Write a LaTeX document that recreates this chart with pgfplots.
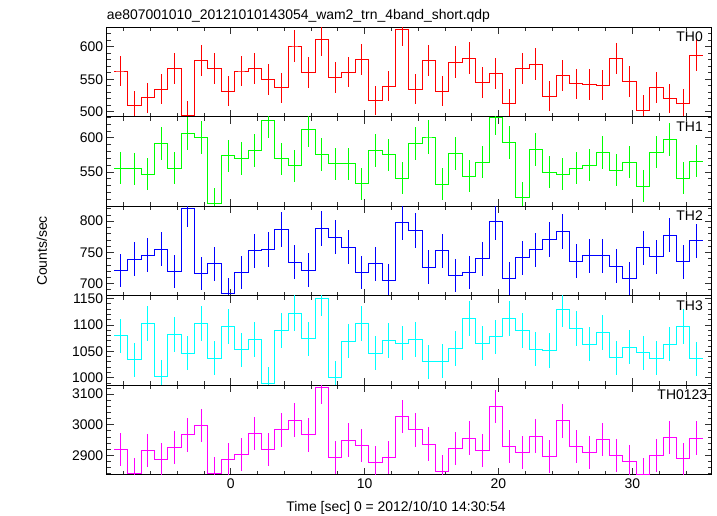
\documentclass[border=0pt]{standalone}
\usepackage{fontspec}
\setmainfont{Liberation Sans}
\usepackage{pgfplots}
\pgfplotsset{compat=1.18}
\usepgfplotslibrary{groupplots}
\usepackage{pgfplotstable}

\pgfplotstableread{
x y e
-8.7 562.6 0
-8.2 562.6 23.7
-7.2 509.2 22.6
-6.2 521.5 22.8
-5.2 534.9 23.1
-4.2 567.2 23.8
-3.2 494.4 22.2
-2.2 579.0 24.1
-1.2 566.7 23.8
-0.2 531.3 23.1
0.8 562.6 23.7
1.8 566.2 23.8
2.8 549.2 23.4
3.8 536.9 23.2
4.8 601.0 24.5
5.8 560.5 23.7
6.8 610.3 24.7
7.8 552.8 23.5
8.8 561.0 23.7
9.8 580.5 24.1
10.8 517.4 22.7
11.8 539.0 23.2
12.8 626.7 25.0
13.8 534.4 23.1
14.8 579.0 24.1
15.8 531.3 23.1
16.8 576.4 24.0
17.8 582.6 24.1
18.8 545.1 23.3
19.8 558.5 23.6
20.8 512.8 22.6
21.8 566.2 23.8
22.8 573.3 23.9
23.8 523.6 22.9
24.8 555.9 23.6
25.8 543.1 23.3
26.8 542.1 23.3
27.8 541.0 23.3
28.8 582.0 24.1
29.8 546.7 23.4
30.8 502.6 22.4
31.8 537.4 23.2
32.8 520.5 22.8
33.8 512.8 22.6
34.8 587.2 24.2
35.3 587.2 0
}\thzero

\pgfplotstableread{
x y e
-8.7 555.3 0
-8.2 555.3 23.6
-7.2 554.4 23.5
-6.2 546.6 23.4
-5.2 591.7 24.3
-4.2 555.3 23.6
-3.2 606.3 24.6
-2.2 600.0 24.5
-1.2 503.9 22.4
-0.2 573.3 23.9
0.8 569.4 23.9
1.8 580.6 24.1
2.8 625.2 25.0
3.8 568.9 23.9
4.8 558.7 23.6
5.8 611.6 24.7
6.8 575.2 24.0
7.8 561.7 23.7
8.8 561.7 23.7
9.8 532.5 23.1
10.8 581.6 24.1
11.8 574.8 24.0
12.8 540.8 23.3
13.8 591.7 24.3
14.8 601.0 24.5
15.8 532.0 23.1
16.8 576.7 24.0
17.8 543.7 23.3
18.8 564.1 23.8
19.8 629.1 25.1
20.8 593.2 24.4
21.8 512.1 22.6
22.8 583.0 24.1
23.8 549.5 23.4
24.8 546.6 23.4
25.8 555.3 23.6
26.8 559.7 23.7
27.8 578.6 24.1
28.8 552.4 23.5
29.8 564.1 23.8
30.8 529.1 23.0
31.8 579.1 24.1
32.8 597.6 24.4
33.8 540.8 23.3
34.8 565.5 23.8
35.3 565.5 0
}\thone

\pgfplotstableread{
x y e
-8.7 720.7 0
-8.2 720.7 26.8
-7.2 739.4 27.2
-6.2 745.2 27.3
-5.2 755.3 27.5
-4.2 719.7 26.8
-3.2 819.7 28.6
-2.2 716.5 26.8
-1.2 731.9 27.1
-0.2 683.5 26.1
0.8 718.1 26.8
1.8 752.7 27.4
2.8 754.8 27.5
3.8 787.2 28.1
4.8 734.0 27.1
5.8 721.3 26.9
6.8 788.8 28.1
7.8 774.5 27.8
8.8 758.5 27.5
9.8 718.1 26.8
10.8 731.9 27.1
11.8 705.3 26.6
12.8 797.3 28.2
13.8 784.6 28.0
14.8 726.1 26.9
15.8 752.7 27.4
16.8 712.8 26.7
17.8 718.1 26.8
18.8 739.9 27.2
19.8 798.9 28.3
20.8 708.5 26.6
21.8 741.5 27.2
22.8 754.3 27.5
23.8 770.2 27.8
24.8 784.0 28.0
25.8 735.6 27.1
26.8 744.7 27.3
27.8 744.7 27.3
28.8 727.7 27.0
29.8 708.5 26.6
30.8 757.4 27.5
31.8 743.1 27.3
32.8 777.7 27.9
33.8 735.1 27.1
34.8 768.6 27.7
35.3 768.6 0
}\thtwo

\pgfplotstableread{
x y e
-8.7 1079.1 0
-8.2 1079.1 32.8
-7.2 1034.2 32.2
-6.2 1103.2 33.2
-5.2 1002.5 31.7
-4.2 1081.6 32.9
-3.2 1046.2 32.3
-2.2 1103.2 33.2
-1.2 1036.7 32.2
-0.2 1096.8 33.1
0.8 1052.5 32.4
1.8 1072.8 32.8
2.8 989.2 31.5
3.8 1089.9 33.0
4.8 1122.2 33.5
5.8 1073.4 32.8
6.8 1150.6 33.9
7.8 1000.6 31.6
8.8 1069.0 32.7
9.8 1103.2 33.2
10.8 1046.2 32.3
11.8 1070.3 32.7
12.8 1065.2 32.6
13.8 1072.8 32.8
14.8 1029.8 32.1
15.8 1031.0 32.1
16.8 1055.1 32.5
17.8 1112.7 33.4
18.8 1065.2 32.6
19.8 1077.2 32.8
20.8 1111.4 33.3
21.8 1089.9 33.0
22.8 1053.8 32.5
23.8 1051.3 32.4
24.8 1129.7 33.6
25.8 1092.4 33.1
26.8 1063.3 32.6
27.8 1086.1 33.0
28.8 1037.3 32.2
29.8 1057.6 32.5
30.8 1046.8 32.4
31.8 1036.7 32.2
32.8 1063.3 32.6
33.8 1097.5 33.1
34.8 1035.4 32.2
35.3 1035.4 0
}\ththree

\pgfplotstableread{
x y e
-8.7 2919.9 0
-8.2 2919.9 54.0
-7.2 2839.0 53.3
-6.2 2916.6 54.0
-5.2 2886.7 53.7
-4.2 2926.5 54.1
-3.2 2966.3 54.5
-2.2 2997.2 54.7
-1.2 2841.4 53.3
-0.2 2886.7 53.7
0.8 2903.3 53.9
1.8 2971.8 54.5
2.8 2919.9 54.0
3.8 2982.9 54.6
4.8 3014.9 54.9
5.8 2966.3 54.5
6.8 3122.1 55.9
7.8 2891.2 53.8
8.8 2949.7 54.3
9.8 2933.1 54.2
10.8 2877.9 53.6
11.8 2891.2 53.8
12.8 3027.1 55.0
13.8 2982.9 54.6
14.8 2936.5 54.2
15.8 2848.1 53.4
16.8 2923.2 54.1
17.8 2956.4 54.4
18.8 2914.4 54.0
19.8 3059.1 55.3
20.8 2927.6 54.1
21.8 2909.9 53.9
22.8 2963.0 54.4
23.8 2895.6 53.8
24.8 3012.7 54.9
25.8 2927.6 54.1
26.8 2909.9 53.9
27.8 2950.8 54.3
28.8 2900.0 53.9
29.8 2880.1 53.7
30.8 2837.0 53.3
31.8 2897.8 53.8
32.8 2957.5 54.4
33.8 2887.8 53.7
34.8 2956.4 54.4
35.3 2956.4 0
}\thall

\definecolor{cR}{RGB}{255,0,0}
\definecolor{cG}{RGB}{0,255,0}
\definecolor{cB}{RGB}{0,0,255}
\definecolor{cC}{RGB}{0,255,255}
\definecolor{cM}{RGB}{255,0,255}

\pgfplotsset{
  steps/.style={#1, line width=0.9bp, const plot mark mid},
  errs/.style={forget plot, draw=none, mark=none,
    error bars/y dir=both, error bars/y explicit, error bars/error mark=none,
    error bars/error bar style={draw=#1, solid, line width=0.9bp}},
}
\tikzset{
  plab/.style={anchor=north east, inner sep=0pt, font=\fontsize{14}{16}\selectfont, xshift=-8.7bp, yshift=-4.5bp},
}

\begin{document}
\begin{tikzpicture}
\begin{groupplot}[
  group style={group size=1 by 5, vertical sep=0pt, xticklabels at=edge bottom},
  width=605bp, height=89.5bp, scale only axis,
  xmin=-9.26, xmax=35.93,
  xtick={0,10,20,30}, minor xtick={-8,-6,...,34},
  tick align=inside, major tick length=7bp, minor tick length=4bp,
  tick style={black!80, line width=0.6bp},
  axis line style={line width=0.9bp},
  tick label style={font=\fontsize{14}{16}\selectfont},
  /pgf/number format/assume math mode=true,
  /pgf/number format/set thousands separator={},
  scaled y ticks=false,
]
\nextgroupplot[ymin=492.3, ymax=629.7, ytick={500,550,600}, minor ytick={510,520,530,540,560,570,580,590,610,620}]
\addplot[steps=cR] table[x=x,y=y]{\thzero};
\addplot[errs=cR] table[x=x,y=y,y error=e]{\thzero};
\node[plab] at (rel axis cs:1,1) {TH0};

\nextgroupplot[ymin=499.5, ymax=630.6, ytick={550,600}, minor ytick={500,510,520,530,540,560,570,580,590,610,620,630}]
\addplot[steps=cG] table[x=x,y=y]{\thone};
\addplot[errs=cG] table[x=x,y=y,y error=e]{\thone};
\node[plab] at (rel axis cs:1,1) {TH1};

\nextgroupplot[ymin=680.3, ymax=823.9, ytick={700,750,800}, minor ytick={690,710,720,730,740,760,770,780,790,810,820}]
\addplot[steps=cB] table[x=x,y=y]{\thtwo};
\addplot[errs=cB] table[x=x,y=y,y error=e]{\thtwo};
\node[plab] at (rel axis cs:1,1) {TH2};

\nextgroupplot[ymin=985.4, ymax=1155.1, ytick={1000,1050,1100,1150}, minor ytick={990,1010,1020,1030,1040,1060,1070,1080,1090,1110,1120,1130,1140}]
\addplot[steps=cC] table[x=x,y=y]{\ththree};
\addplot[errs=cC] table[x=x,y=y,y error=e]{\ththree};
\node[plab] at (rel axis cs:1,1) {TH3};

\nextgroupplot[ymin=2835.9, ymax=3128.7, ytick={2900,3000,3100}, minor ytick={2840,2860,2880,2920,2940,2960,2980,3020,3040,3060,3080,3120}]
\addplot[steps=cM] table[x=x,y=y]{\thall};
\addplot[errs=cM] table[x=x,y=y,y error=e]{\thall};
\node[plab, xshift=4.3bp] at (rel axis cs:1,1) {TH0123};
\end{groupplot}

\node[anchor=base west, inner sep=0pt, font=\fontsize{14}{16}\selectfont] at ([yshift=7.3bp]group c1r1.north west) {ae807001010\_20121010143054\_wam2\_trn\_4band\_short.qdp};
\path (group c1r1.north west) ++(-64.7bp,-223.7bp) node[rotate=90, font=\fontsize{14}{16}\selectfont] {Counts/sec};
\path (group c1r5.south west) ++(289.3bp,-33.3bp) node[font=\fontsize{14}{16}\selectfont] {Time [sec] 0 = 2012/10/10 14:30:54};

\pgfresetboundingbox
\path (group c1r1.north west) ++(-106.7bp,27.3bp) rectangle ++(717bp,-516bp);
\end{tikzpicture}
\end{document}
